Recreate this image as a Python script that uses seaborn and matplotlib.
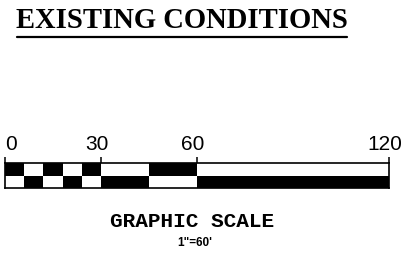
import seaborn as sns
import matplotlib.pyplot as plt
import matplotlib.transforms as mtransforms

# scale bar segments (feet)
seg_start = [0, 6, 12, 18, 24, 30, 45, 60]
seg_width = [6, 6, 6, 6, 6, 15, 15, 60]
top_fill = ["black", "white", "black", "white", "black", "white", "black", "white"]
bottom_fill = ["white", "black", "white", "black", "white", "black", "white", "black"]
tick_vals = [0, 30, 60, 120]
tick_labels = ["0", "30", "60", "120"]

title = "EXISTING CONDITIONS"
scale_title = "GRAPHIC SCALE"
scale_note = '1"=60\''

sns.set_style("white")
plt.rcParams["text.color"] = "black"
plt.rcParams["xtick.color"] = "black"
W, H = 414, 262
fig = plt.figure(figsize=(W / 100, H / 100), dpi=100)

# axes placed in pixel terms: bar from x=5..389, y=163..188
ax = fig.add_axes([5 / W, (H - 188) / H, 384 / W, 25 / H])
ax.barh(y=1.5, width=seg_width, left=seg_start, height=1, color=top_fill, linewidth=0)
ax.barh(y=0.5, width=seg_width, left=seg_start, height=1, color=bottom_fill, linewidth=0)
ax.set_xlim(0, 120)
ax.set_ylim(0, 2)
ax.set_yticks([])
for s in ax.spines.values():
    s.set_visible(True)
    s.set_color("black")
    s.set_linewidth(1.2)

ax.xaxis.tick_top()
ax.set_xticks(tick_vals)
ax.set_xticklabels(tick_labels, fontfamily="Liberation Sans", fontsize=15, color="black")
ax.tick_params(axis="x", direction="out", length=4.5, width=1.1, color="black", pad=2)
for i, lab in enumerate(ax.get_xticklabels()):
    if i == 0:
        lab.set_ha("left")
    else:
        lab.set_transform(lab.get_transform() + mtransforms.ScaledTranslation(-4 / 100, 0, fig.dpi_scale_trans))

# title with underline
fig.text(182 / W, 1 - 21 / H, title, ha="center", va="center", color="black",
         fontfamily="Liberation Serif", fontweight="bold", fontsize=20.6)
fig.add_artist(plt.Line2D([17 / W, 347 / W], [1 - 36.5 / H, 1 - 36.5 / H], color="black", linewidth=1.6))

fig.text(192 / W, 1 - 221.5 / H, scale_title, ha="center", va="center", color="black",
         fontfamily="Liberation Mono", fontweight="bold", fontsize=15.2)
fig.text(195 / W, 1 - 243.5 / H, scale_note, ha="center", va="center", color="black",
         fontfamily="Liberation Sans", fontweight="bold", fontsize=8.5)

fig.savefig("out.png", dpi=100)
